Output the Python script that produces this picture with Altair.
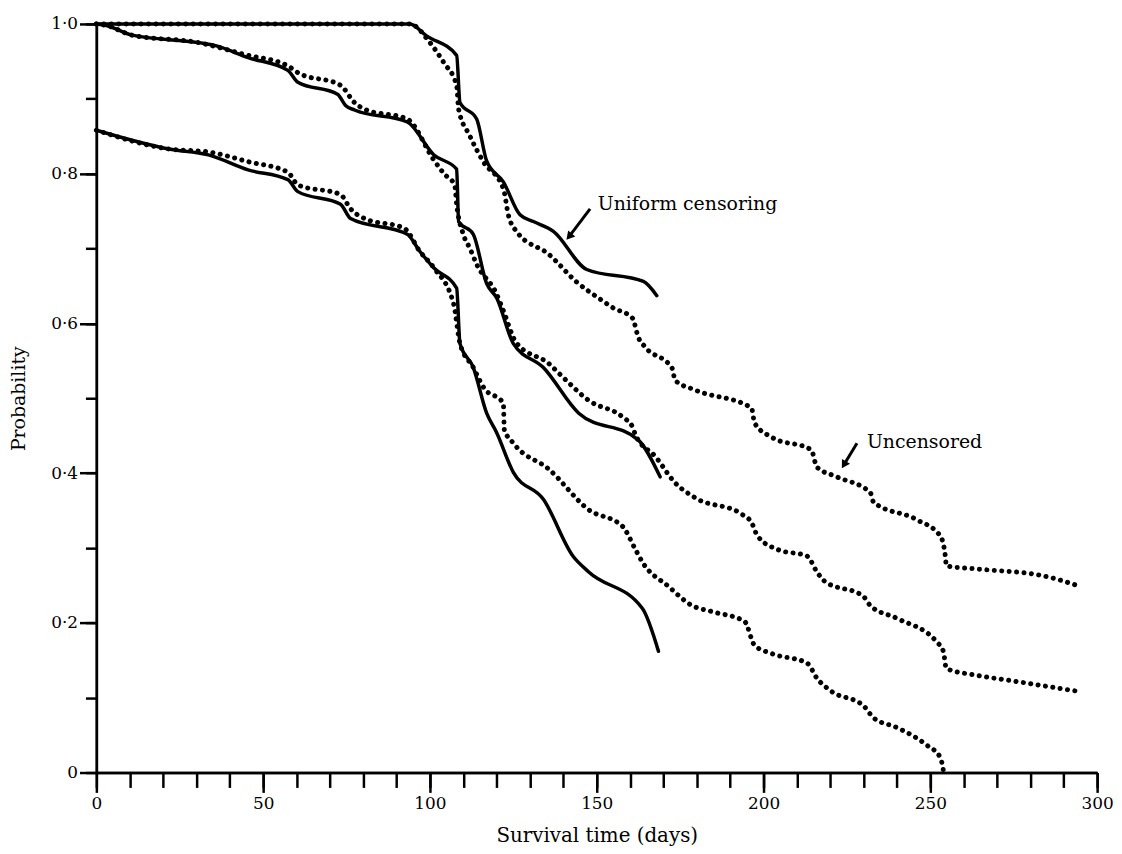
import altair as alt
import pandas as pd

# ---- Uniform censoring (solid) ----
us_day = [0, 94, 99, 108, 109, 114, 117, 122, 127, 131, 137, 147, 164, 168]
us_p = [1.0, 1.0, 0.984, 0.958, 0.895, 0.873, 0.817, 0.789, 0.745, 0.736, 0.723, 0.672, 0.656, 0.637]

ms_day = [0, 3, 10.7, 30.7, 35.7, 45.5, 57.4, 60.4, 72.3, 74.7, 77.4, 93.2, 101.2, 108, 108.6, 113, 117, 120,
          125, 134, 144.6, 162.5, 169]
ms_p = [1.0, 0.998, 0.985, 0.975, 0.971, 0.955, 0.938, 0.922, 0.906, 0.891, 0.885, 0.869, 0.825, 0.806, 0.736,
        0.719, 0.653, 0.634, 0.573, 0.541, 0.480, 0.444, 0.395]

ls_day = [0, 21.7, 33.6, 45.5, 57.4, 60.4, 73.2, 76.2, 93.2, 97, 101.2, 108, 109, 113, 117, 120, 125, 134,
          142.9, 147.6, 163.7, 168.5]
ls_p = [0.858, 0.833, 0.825, 0.805, 0.792, 0.776, 0.759, 0.740, 0.719, 0.696, 0.674, 0.647, 0.573, 0.541,
        0.480, 0.454, 0.401, 0.365, 0.289, 0.268, 0.219, 0.162]

# ---- Uncensored (dotted) ----
ud_day = [0, 94, 100, 104.2, 108, 108.6, 111.9, 116, 122, 123.5, 125.9, 135.7, 143.8, 151.8, 154.8, 160.7,
          162.5, 164.6, 172.6, 173.5, 179.5, 196.4, 197.3, 202.4, 214.3, 216, 222, 232, 233, 245.8, 253,
          254.5, 254.8, 263.7, 283.6, 294.6]
ud_p = [1.0, 1.0, 0.975, 0.948, 0.918, 0.886, 0.851, 0.816, 0.780, 0.745, 0.723, 0.692, 0.656, 0.630, 0.621,
        0.607, 0.581, 0.568, 0.540, 0.524, 0.511, 0.487, 0.467, 0.448, 0.431, 0.408, 0.395, 0.374, 0.361,
        0.338, 0.316, 0.289, 0.276, 0.272, 0.263, 0.249]

md_day = [0, 3, 10.7, 30.7, 44.6, 57.4, 60.4, 73.2, 77.4, 80.4, 93.2, 101.2, 104.2, 107.4, 108, 110, 112,
          114, 120, 122, 125.9, 135.7, 139.9, 147.6, 157.7, 160.7, 161.6, 167.6, 173.5, 179.5, 193.5, 196.4,
          198.2, 204.2, 213.1, 216, 218.2, 230, 232, 240, 251.8, 253.9, 254.8, 263.7, 273.8, 293.5]
md_p = [1.0, 0.998, 0.985, 0.975, 0.959, 0.944, 0.935, 0.918, 0.895, 0.886, 0.873, 0.818, 0.800, 0.785,
        0.759, 0.719, 0.700, 0.679, 0.639, 0.617, 0.574, 0.546, 0.528, 0.497, 0.475, 0.462, 0.451, 0.422,
        0.387, 0.367, 0.345, 0.334, 0.316, 0.298, 0.289, 0.268, 0.256, 0.235, 0.223, 0.206, 0.175, 0.162,
        0.139, 0.130, 0.123, 0.109]

ld_day = [0, 21.7, 33.6, 45.5, 57.4, 60.4, 73.2, 76.2, 80.4, 92.3, 97, 101.2, 107.1, 109, 113, 114.9, 116,
          122, 122.3, 125, 135.7, 147.6, 157.7, 161.6, 163.7, 171.4, 178.6, 184.5, 194.3, 197.3, 202.4,
          213.1, 216, 220.2, 230, 233, 240, 248.8, 253, 253.9]
ld_p = [0.858, 0.833, 0.829, 0.816, 0.802, 0.785, 0.772, 0.753, 0.740, 0.727, 0.696, 0.674, 0.626, 0.573,
        0.541, 0.524, 0.515, 0.493, 0.458, 0.440, 0.405, 0.351, 0.329, 0.298, 0.281, 0.249, 0.223, 0.215,
        0.202, 0.170, 0.159, 0.146, 0.126, 0.109, 0.089, 0.073, 0.060, 0.037, 0.020, 0.003]

# ---- annotations ----
label_text = ["Uniform censoring", "Uncensored"]
label_day = [150.3, 231.0]
label_p = [0.760, 0.4416]

arrow_id = ["a1", "a1", "a2", "a2"]
arrow_day = [148.0, 141.7, 228.0, 224.1]
arrow_p = [0.753, 0.716, 0.440, 0.411]
head_day = [141.7, 224.1]
head_p = [0.716, 0.411]
head_angle = [220.6, 210.6]

x_minor_ticks = list(range(0, 301, 10))
x_major_ticks = list(range(0, 301, 50))
y_minor_ticks = [i / 10 for i in range(11)]
y_major_ticks = [i / 5 for i in range(6)]


def frame(name, d, p):
    return pd.DataFrame({"curve": name, "day": d, "p": p})


solid = pd.concat([frame("us", us_day, us_p), frame("ms", ms_day, ms_p), frame("ls", ls_day, ls_p)])
dotted = pd.concat([frame("ud", ud_day, ud_p), frame("md", md_day, md_p), frame("ld", ld_day, ld_p)])
arrows = pd.DataFrame({"id": arrow_id, "day": arrow_day, "p": arrow_p})
heads = pd.DataFrame({"day": head_day, "p": head_p, "ang": head_angle})
labels = pd.DataFrame({"text": label_text, "day": label_day, "p": label_p})

FONT = "DejaVu Serif"

xscale = alt.Scale(domain=[0, 300], nice=False, zero=False)
yscale = alt.Scale(domain=[0, 1], nice=False, zero=False)

# minor-tick axes (no labels)
x_minor = alt.X("day:Q", scale=xscale, axis=alt.Axis(
    values=x_minor_ticks, orient="bottom", title=None, labels=False, tickSize=15, domain=True))
y_minor = alt.Y("p:Q", scale=yscale, axis=alt.Axis(
    values=y_minor_ticks, orient="left", title=None, labels=False, tickSize=11, domain=True))

# major-tick axes with labels
x_major = alt.X("day:Q", scale=xscale, axis=alt.Axis(
    values=x_major_ticks, orient="bottom", title="Survival time (days)", format="d",
    tickSize=20, labelPadding=3, titlePadding=14, titleFontSize=20,
    labelFlush=False, labelOverlap=False))
y_major = alt.Y("p:Q", scale=yscale, axis=alt.Axis(
    values=y_major_ticks, orient="left", title="Probability",
    labelExpr="datum.value == 0 ? '0' : replace(format(datum.value, '.1f'), '.', '·')",
    tickSize=17, labelPadding=2, titlePadding=22, titleFontSize=19,
    labelFlush=False, labelOverlap=False))

dotted_layer = alt.Chart(dotted).mark_line(
    color="black", strokeWidth=5, strokeDash=[0.1, 7.4], strokeCap="round", interpolate="monotone"
).encode(x=x_minor, y=y_minor, detail="curve:N")

solid_layer = alt.Chart(solid).mark_line(
    color="black", strokeWidth=3.5, strokeJoin="round", strokeCap="round", interpolate="monotone"
).encode(x=x_major, y=y_major, detail="curve:N")

arrow_layer = alt.Chart(arrows).mark_line(color="black", strokeWidth=3).encode(
    x=alt.X("day:Q", scale=xscale, axis=None), y=alt.Y("p:Q", scale=yscale, axis=None), detail="id:N"
)
head_layer = alt.Chart(heads).mark_point(
    shape="triangle-up", filled=True, color="black", opacity=1, size=90
).encode(
    x=alt.X("day:Q", scale=xscale, axis=None), y=alt.Y("p:Q", scale=yscale, axis=None),
    angle=alt.Angle("ang:Q", scale=None)
)

text_layer = alt.Chart(labels).mark_text(
    align="left", baseline="middle", font=FONT, fontSize=19, color="black"
).encode(
    x=alt.X("day:Q", scale=xscale, axis=None), y=alt.Y("p:Q", scale=yscale, axis=None), text="text:N"
)

chart = (
    alt.layer(dotted_layer, solid_layer, arrow_layer, head_layer, text_layer)
    .resolve_scale(x="shared", y="shared")
    .resolve_axis(x="independent", y="independent")
    .properties(
        width=1008,
        height=754,
        autosize=alt.AutoSizeParams(type="none"),
        padding={"left": 89, "top": 13, "right": 17, "bottom": 78},
    )
    .configure_view(strokeWidth=0)
    .configure_axis(
        grid=False,
        domainColor="black",
        domainWidth=2.5,
        tickColor="black",
        tickWidth=2.5,
        labelFont=FONT,
        labelFontSize=17,
        labelColor="black",
        titleFont=FONT,
        titleFontWeight="normal",
        titleColor="black",
    )
)

chart.save("out.html", embed_options={"renderer": "svg", "actions": False})
